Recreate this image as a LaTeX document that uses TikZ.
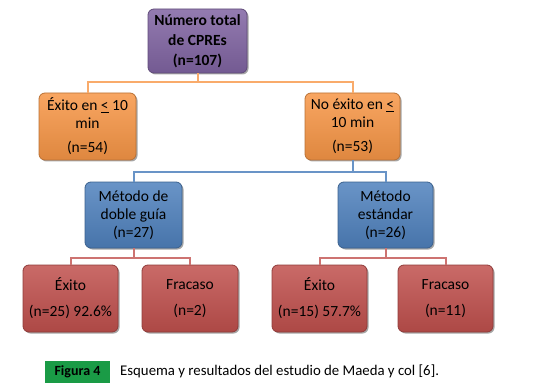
\documentclass[tikz,border=0pt]{standalone}
\usepackage{fontspec}
\setmainfont{Carlito}
\usepackage{xcolor}
\usetikzlibrary{shadows}
\definecolor{Purple}{HTML}{8064A2}
\definecolor{Orange}{HTML}{F79646}
\definecolor{Blue}{HTML}{4F81BD}
\definecolor{Red}{HTML}{C0504D}
\definecolor{Green}{HTML}{1A9B46}
\definecolor{Ink}{HTML}{000000}
\tikzset{
  box/.style={rounded corners=6pt,align=center,font=\fontsize{15.5}{18}\selectfont,text=Ink,line width=0.8pt,inner sep=2pt,
    drop shadow={shadow xshift=1.5pt,shadow yshift=-1.5pt,fill=black,opacity=0.35}},
  purplebox/.style={box,draw=Purple!75!black,top color=Purple!85!white,bottom color=Purple!90!black},
  orangebox/.style={box,draw=Orange!75!black,top color=Orange!85!white,bottom color=Orange!90!black},
  bluebox/.style={box,draw=Blue!75!black,top color=Blue!85!white,bottom color=Blue!90!black},
  redbox/.style={box,draw=Red!75!black,top color=Red!85!white,bottom color=Red!90!black,minimum width=95pt,minimum height=67pt},
  orangeline/.style={draw=Orange!80!white,line width=2pt},
  blueline/.style={draw=Blue!85!white,line width=2pt},
  redline/.style={draw=Red!80!white,line width=2pt}
}
\begin{document}
\begin{tikzpicture}[x=1pt,y=-1pt]
  \useasboundingbox (0,0) rectangle (548,390);
  \node[purplebox,minimum width=99pt,minimum height=64pt,font=\fontsize{15.5}{20}\selectfont\bfseries] (total) at (197.5,41) {N\'umero total\\de CPREs\\(n=107)};
  \node[orangebox,minimum width=97pt,minimum height=67pt] (exito) at (87.5,126.5) {\'Exito en \underline{<} 10\\min\\[6pt](n=54)};
  \node[orangebox,minimum width=95pt,minimum height=67pt] (noexito) at (352.5,126.5) {No \'exito en \underline{<}\\10 min\\[6pt](n=53)};
  \node[bluebox,minimum width=97pt,minimum height=66pt] (doble) at (133.5,215) {M\'etodo de\\doble gu\'ia\\(n=27)};
  \node[bluebox,minimum width=95pt,minimum height=66pt] (estandar) at (385.5,215) {M\'etodo\\est\'andar\\(n=26)};
  \node[redbox] (dexito) at (70.5,298.5) {\'Exito\\[8pt](n=25) 92.6\%};
  \node[redbox,minimum width=96pt] (dfracaso) at (190,298.5) {Fracaso\\[8pt](n=2)};
  \node[redbox] (eexito) at (319.5,298.5) {\'Exito\\[8pt](n=15) 57.7\%};
  \node[redbox] (efracaso) at (445.5,298.5) {Fracaso\\[8pt](n=11)};
  % connectors
  \draw[orangeline] (total.south) -- ++(0,9) -| (exito.north);
  \draw[orangeline] (total.south) -- ++(0,9) -| (noexito.north);
  \draw[blueline] (noexito.south) -- ++(0,12) -| (doble.north);
  \draw[blueline] (noexito.south) -- ++(0,12) -| (estandar.north);
  \draw[redline] (doble.south) -- ++(0,10) -| (dexito.north);
  \draw[redline] (doble.south) -- ++(0,10) -| (dfracaso.north);
  \draw[redline] (estandar.south) -- ++(0,10) -| (eexito.north);
  \draw[redline] (estandar.south) -- ++(0,10) -| (efracaso.north);
  % caption
  \node[fill=Green,minimum width=65pt,minimum height=22pt,inner sep=1pt,font=\fontsize{14}{16}\selectfont\bfseries] (fig) at (77.5,372) {Figura 4};
  \node[anchor=west,inner sep=0pt,font=\fontsize{14.8}{16}\selectfont] (caption) at (120,371) {Esquema y resultados del estudio de Maeda y col [6].};
\end{tikzpicture}
\end{document}
